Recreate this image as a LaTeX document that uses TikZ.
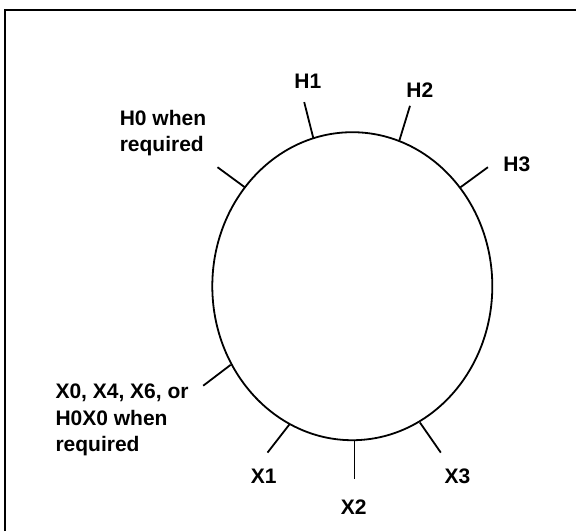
\documentclass[tikz,border=0pt]{standalone}
\usepackage{fontspec}
\setmainfont{Liberation Sans}
\usetikzlibrary{positioning}

\tikzset{
  lbl/.style={font=\fontsize{10.5}{13.25}\selectfont\bfseries, inner sep=0pt, align=left},
  lead/.style={line width=0.9pt},
}

\begin{document}
\begin{tikzpicture}[x=0.5pt, y=-0.5pt]
  \useasboundingbox (0,0) rectangle (576,531);

  % frame (only top and left edges show)
  \draw[line width=1pt] (5,531) -- (5,10) -- (576,10);

  % the winding
  \draw[lead] (352.3,286.2) ellipse [x radius=140, y radius=154];

  % lead ends on the winding and outer ends
  \coordinate (h0in) at (245,187.4);   \coordinate (h0out) at (217.5,167.2);
  \coordinate (h1in) at (313.4,138.5); \coordinate (h1out) at (304.2,102.1);
  \coordinate (h2in) at (399.3,140.7); \coordinate (h2out) at (410,105.8);
  \coordinate (h3in) at (460.3,187.4); \coordinate (h3out) at (487.9,167.2);
  \coordinate (x0in) at (230.7,364.8); \coordinate (x0out) at (203.2,385.7);
  \coordinate (x1in) at (289.5,424.3); \coordinate (x1out) at (267.5,452.6);
  \coordinate (x2in) at (354.5,440.1); \coordinate (x2out) at (354.5,479.4);
  \coordinate (x3in) at (419.9,422.5); \coordinate (x3out) at (440.8,452.6);

  \foreach \t in {h0,h1,h2,h3,x0,x1,x2,x3}
    \draw[lead] (\t in) -- (\t out);

  % labels
  \node[lbl] (H1) at (307.9,81.6) {H1};
  \node[lbl] (H2) at (419.9,90) {H2};
  \node[lbl] (H3) at (516.9,164.2) {H3};
  \node[lbl, anchor=west] (H0) at (119.4,133) {H0 when\\required};
  \node[lbl, anchor=west] (X0) at (55.1,420) {X0, X4, X6, or\\H0X0 when\\required};
  \node[lbl] (X1) at (263.8,476.5) {X1};
  \node[lbl] (X2) at (353.8,507) {X2};
  \node[lbl] (X3) at (457.4,476.5) {X3};
\end{tikzpicture}
\end{document}
